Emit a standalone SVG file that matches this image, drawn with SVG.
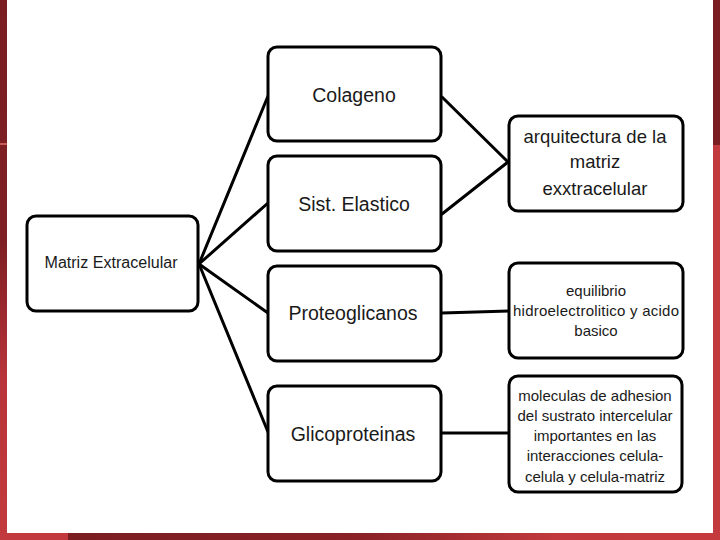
<svg xmlns="http://www.w3.org/2000/svg" width="720" height="540" viewBox="0 0 720 540">
  <defs>
    <linearGradient id="leftGrad" x1="0" y1="0" x2="0" y2="1">
      <stop offset="0" stop-color="#7a1e22"/>
      <stop offset="0.45" stop-color="#7e1f23"/>
      <stop offset="0.7" stop-color="#b8343a"/>
      <stop offset="1" stop-color="#c23a3d"/>
    </linearGradient>
    <linearGradient id="bottomGrad" x1="0" y1="0" x2="1" y2="0">
      <stop offset="0" stop-color="#7a1e22"/>
      <stop offset="0.45" stop-color="#8a2226"/>
      <stop offset="0.75" stop-color="#c23a3d"/>
      <stop offset="1" stop-color="#c53a3d"/>
    </linearGradient>
    <style>
      .box { fill: #ffffff; stroke: #000000; stroke-width: 3; }
      .lbl { font-family: "Liberation Sans", Arial, sans-serif; fill: #1a1a1a; text-anchor: middle; }
      .big { font-size: 19.5px; }
      .mid { font-size: 18.5px; }
      .sm { font-size: 15px; }
      .conn { stroke: #000000; stroke-width: 3; fill: none; stroke-linecap: round; }
    </style>
  </defs>

  <rect x="0" y="0" width="720" height="540" fill="#ffffff"/>

  <!-- frame bands -->
  <g id="frame">
    <rect x="0" y="0" width="7" height="540" fill="url(#leftGrad)"/>
    <rect x="0" y="143" width="7" height="2" fill="#c95a5c"/>
    <rect x="713" y="0" width="7" height="145" fill="#7a1e22"/>
    <rect x="713" y="145" width="7" height="395" fill="#c23a3d"/>
    <rect x="68" y="533" width="652" height="7" fill="url(#bottomGrad)"/>
    <rect x="0" y="533" width="68" height="7" fill="#c23a3d"/>
  </g>

  <g id="connectors">
    <line class="conn" x1="199" y1="264" x2="268" y2="96"/>
    <line class="conn" x1="199" y1="264" x2="268" y2="203"/>
    <line class="conn" x1="199" y1="264" x2="268" y2="313"/>
    <line class="conn" x1="199" y1="264" x2="268" y2="432"/>
    <line class="conn" x1="442" y1="97" x2="508" y2="162"/>
    <line class="conn" x1="442" y1="214" x2="508" y2="162"/>
    <line class="conn" x1="442" y1="313" x2="509" y2="311"/>
    <line class="conn" x1="442" y1="433" x2="509" y2="433"/>
  </g>

  <g id="matriz-extracelular">
    <rect class="box" x="27" y="216" width="171" height="95" rx="9"/>
    <text class="lbl" font-size="16" x="111" y="268" textLength="133" lengthAdjust="spacingAndGlyphs">Matriz Extracelular</text>
  </g>

  <g id="colageno">
    <rect class="box" x="268" y="47" width="173" height="94" rx="9"/>
    <text class="lbl big" x="354" y="102">Colageno</text>
  </g>

  <g id="sist-elastico">
    <rect class="box" x="268" y="156" width="173" height="95" rx="9"/>
    <text class="lbl big" x="354" y="211">Sist. Elastico</text>
  </g>

  <g id="proteoglicanos">
    <rect class="box" x="268" y="266" width="173" height="95" rx="9"/>
    <text class="lbl big" x="353" y="320">Proteoglicanos</text>
  </g>

  <g id="glicoproteinas">
    <rect class="box" x="268" y="386" width="173" height="95" rx="9"/>
    <text class="lbl big" x="353" y="441">Glicoproteinas</text>
  </g>

  <g id="arquitectura">
    <rect class="box" x="509" y="116" width="174" height="95" rx="9"/>
    <text class="lbl mid" x="595" y="143">arquitectura de la</text>
    <text class="lbl mid" x="595" y="168">matriz</text>
    <text class="lbl mid" x="595" y="195">exxtracelular</text>
  </g>

  <g id="equilibrio">
    <rect class="box" x="509" y="263" width="174" height="95" rx="9"/>
    <text class="lbl sm" x="596" y="296">equilibrio</text>
    <text class="lbl sm" x="596" y="316" textLength="166" lengthAdjust="spacing">hidroelectrolitico y acido</text>
    <text class="lbl sm" x="596" y="336">basico</text>
  </g>

  <g id="moleculas">
    <rect class="box" x="509" y="376" width="173" height="116" rx="9"/>
    <text class="lbl sm" x="595" y="401">moleculas de adhesion</text>
    <text class="lbl sm" x="595" y="421">del sustrato intercelular</text>
    <text class="lbl sm" x="595" y="441">importantes en las</text>
    <text class="lbl sm" x="595" y="461">interacciones celula-</text>
    <text class="lbl sm" x="595" y="482">celula y celula-matriz</text>
  </g>
</svg>
